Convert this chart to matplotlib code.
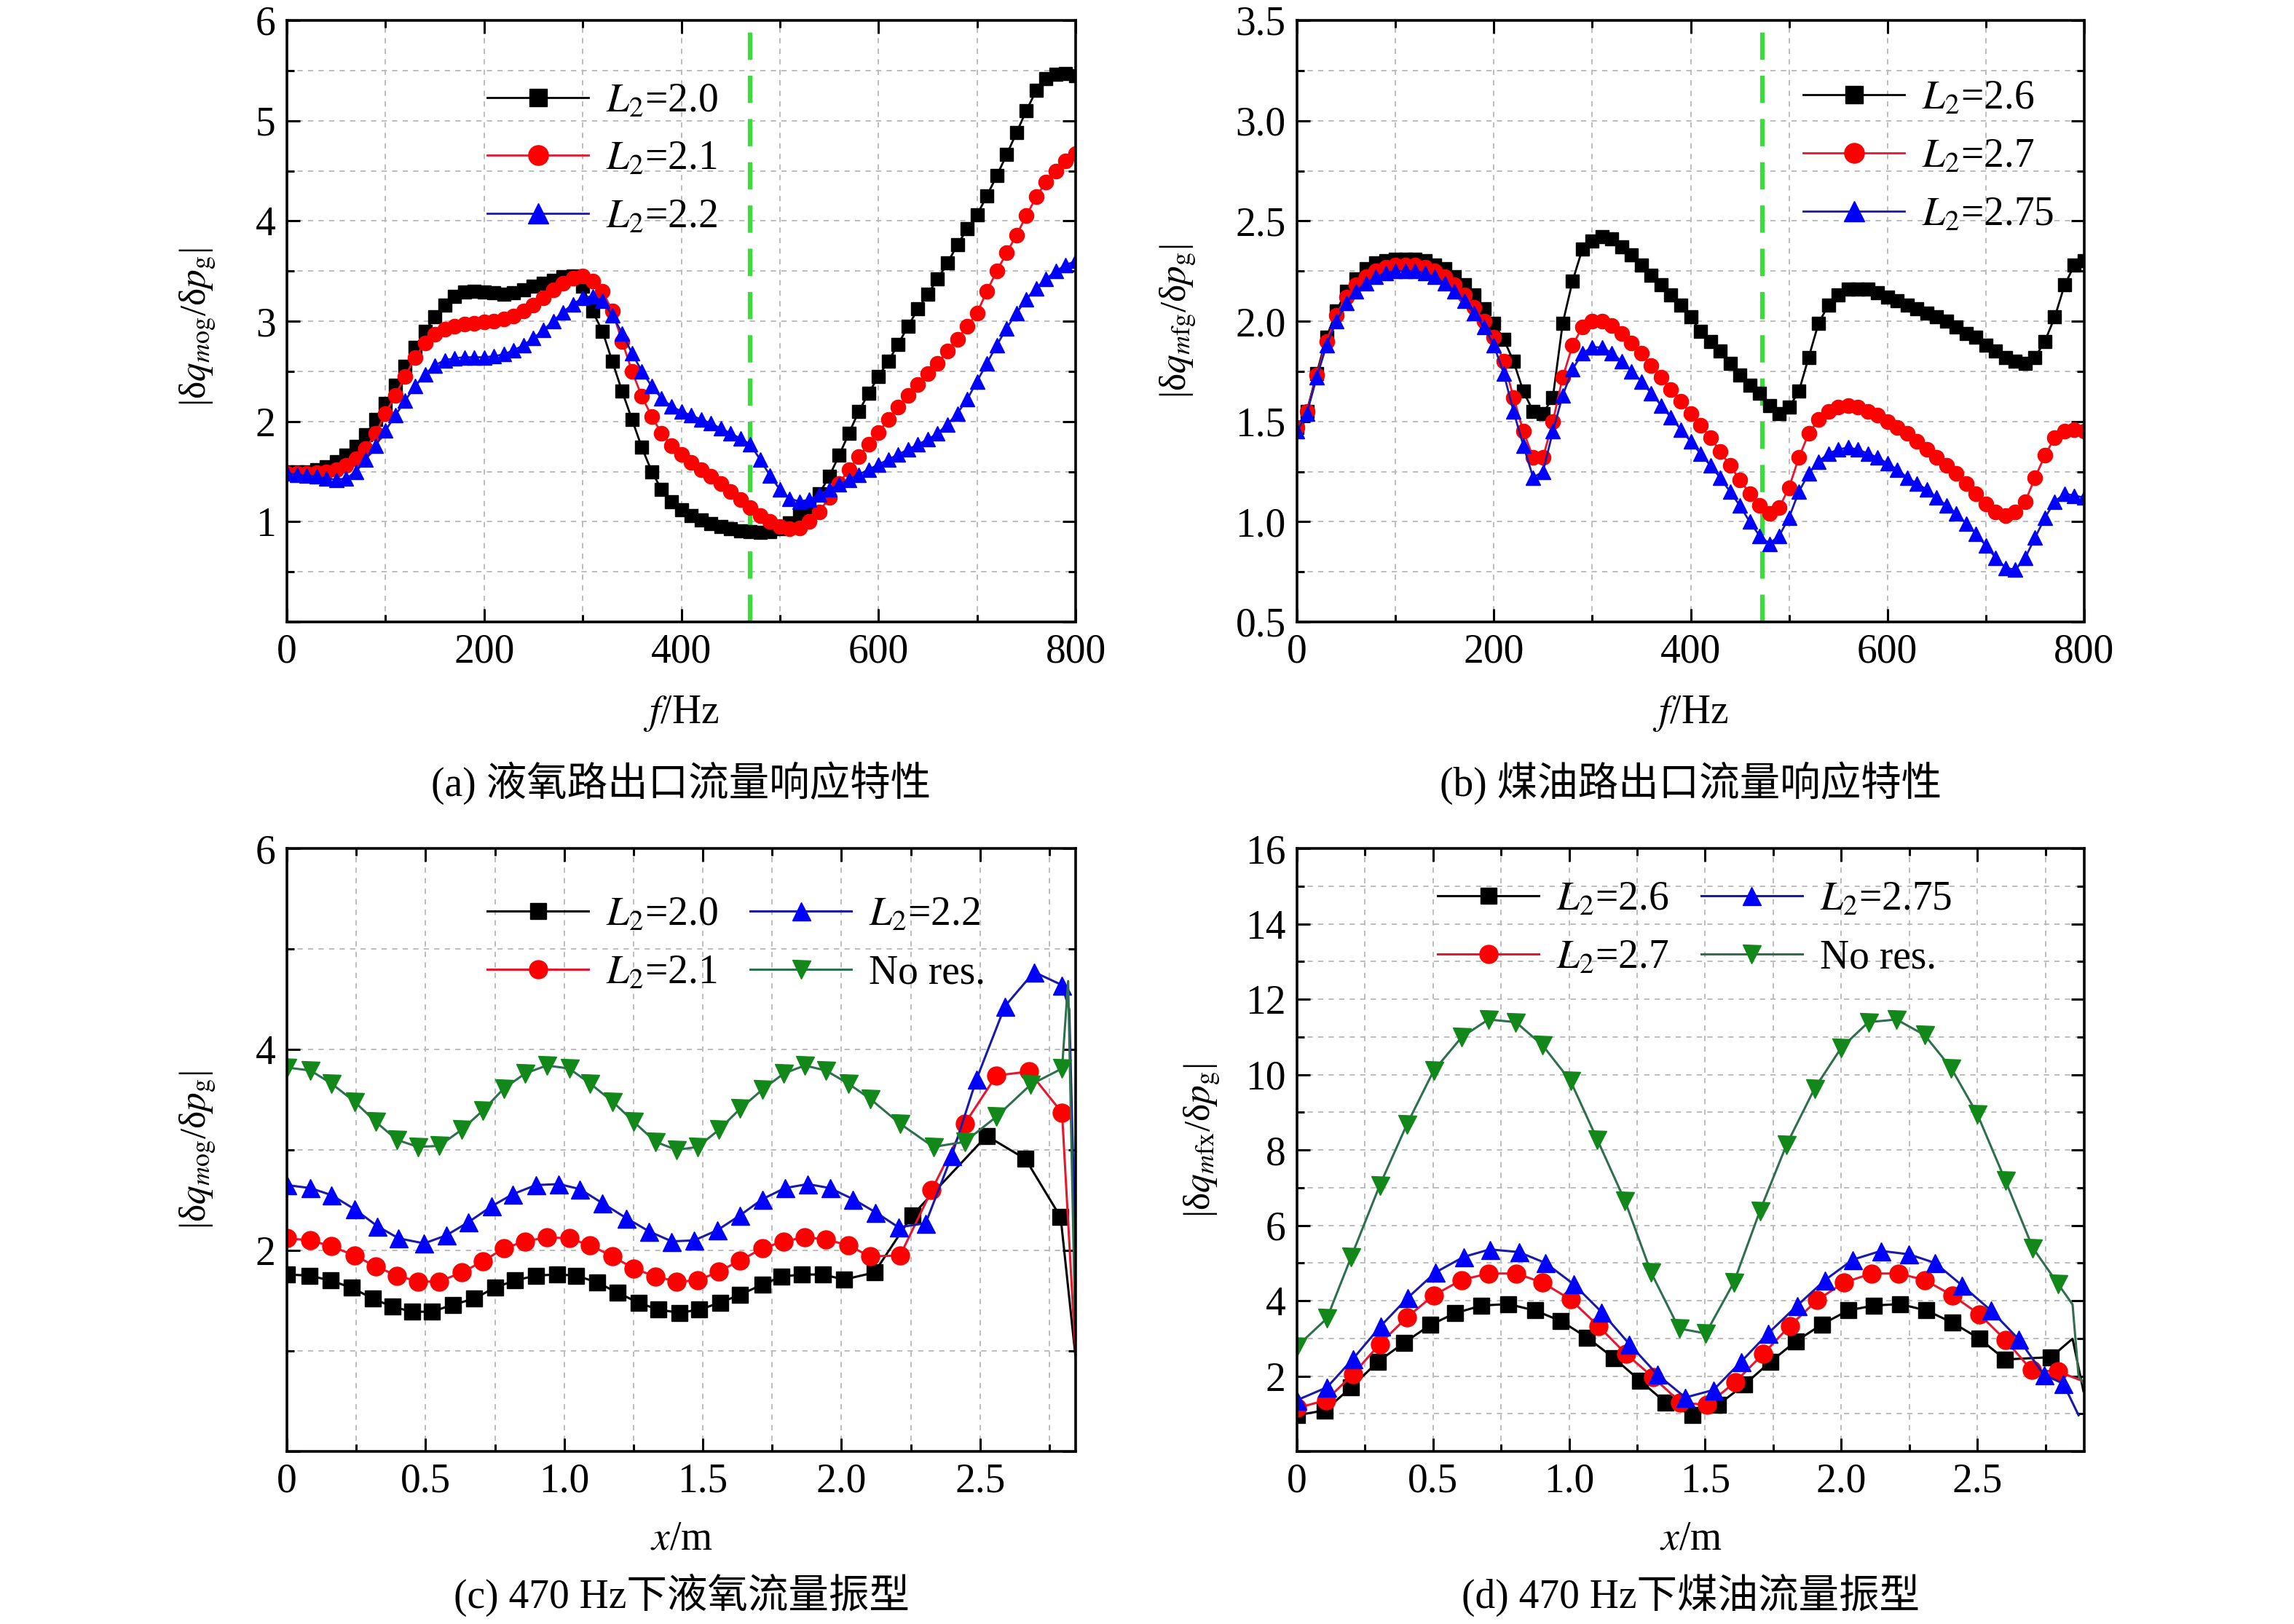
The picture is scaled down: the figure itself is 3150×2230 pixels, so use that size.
import numpy as np
import matplotlib
matplotlib.use("Agg")
import matplotlib.pyplot as plt
from matplotlib.ticker import MultipleLocator, FuncFormatter

plt.rcParams['font.family'] = ['Liberation Serif', 'Noto Sans CJK SC', 'DejaVu Sans']
plt.rcParams['mathtext.fontset'] = 'stix'

# ---------------- data ----------------
# (a) liquid-oxygen line outlet flow response, f = 0..800 Hz step 10
freq_a = list(range(0, 801, 10))
a_L20 = [1.50, 1.50, 1.50, 1.52, 1.55, 1.60, 1.66, 1.75, 1.87, 2.02,
         2.18, 2.36, 2.55, 2.74, 2.90, 3.04, 3.16, 3.25, 3.29, 3.30,
         3.29, 3.28, 3.27, 3.28, 3.31, 3.35, 3.38, 3.41, 3.44, 3.45,
         3.35, 3.10, 2.90, 2.60, 2.30, 2.02, 1.74, 1.50, 1.32, 1.20,
         1.12, 1.06, 1.02, 0.98, 0.95, 0.93, 0.91, 0.90, 0.89, 0.90,
         0.93, 0.99, 1.06, 1.15, 1.28, 1.45, 1.66, 1.88, 2.10, 2.28,
         2.45, 2.60, 2.77, 2.95, 3.12, 3.27, 3.42, 3.58, 3.76, 3.92,
         4.06, 4.25, 4.45, 4.66, 4.88, 5.10, 5.30, 5.42, 5.46, 5.47, 5.45]
a_L21 = [1.48, 1.48, 1.48, 1.49, 1.50, 1.52, 1.56, 1.63, 1.73, 1.88,
         2.08, 2.26, 2.45, 2.64, 2.78, 2.87, 2.92, 2.95, 2.97, 2.98,
         2.99, 3.00, 3.02, 3.05, 3.10, 3.16, 3.23, 3.31, 3.38, 3.43,
         3.45, 3.40, 3.30, 3.10, 2.80, 2.50, 2.25, 2.05, 1.88, 1.76,
         1.67, 1.59, 1.52, 1.45, 1.38, 1.30, 1.22, 1.14, 1.06, 1.00,
         0.95, 0.93, 0.94, 1.00, 1.10, 1.24, 1.38, 1.52, 1.65, 1.77,
         1.89, 2.02, 2.14, 2.26, 2.37, 2.48, 2.58, 2.70, 2.82, 2.95,
         3.08, 3.30, 3.50, 3.68, 3.86, 4.05, 4.24, 4.39, 4.50, 4.60, 4.67]
a_L22 = [1.48, 1.47, 1.46, 1.45, 1.43, 1.42, 1.43, 1.50, 1.62, 1.76,
         1.91, 2.06, 2.21, 2.35, 2.47, 2.56, 2.61, 2.63, 2.64, 2.64,
         2.64, 2.65, 2.67, 2.71, 2.76, 2.83, 2.91, 3.00, 3.09, 3.17,
         3.23, 3.25, 3.20, 3.06, 2.88, 2.68, 2.50, 2.35, 2.23, 2.15,
         2.10, 2.06, 2.02, 1.98, 1.93, 1.88, 1.83, 1.77, 1.62, 1.46,
         1.32, 1.23, 1.20, 1.22, 1.27, 1.32, 1.37, 1.42, 1.47, 1.52,
         1.57, 1.62, 1.67, 1.72, 1.77, 1.82, 1.88, 1.97, 2.08, 2.22,
         2.40, 2.58, 2.76, 2.93, 3.08, 3.22, 3.33, 3.42, 3.50, 3.56, 3.60]

# (b) kerosene line outlet flow response
freq_b = list(range(0, 801, 10))
b_L26 = [1.47, 1.55, 1.74, 1.92, 2.05, 2.15, 2.21, 2.26, 2.29, 2.30,
         2.31, 2.31, 2.31, 2.30, 2.28, 2.26, 2.22, 2.18, 2.13, 2.06,
         1.99, 1.91, 1.80, 1.65, 1.55, 1.54, 1.62, 1.99, 2.20, 2.36,
         2.40, 2.42, 2.41, 2.37, 2.33, 2.28, 2.23, 2.18, 2.13, 2.08,
         2.02, 1.95, 1.90, 1.85, 1.79, 1.73, 1.68, 1.64, 1.58, 1.54,
         1.57, 1.65, 1.82, 1.99, 2.08, 2.13, 2.16, 2.16, 2.16, 2.14,
         2.12, 2.10, 2.08, 2.06, 2.04, 2.02, 2.00, 1.97, 1.94, 1.92,
         1.88, 1.85, 1.82, 1.80, 1.79, 1.82, 1.90, 2.02, 2.18, 2.28, 2.30]
b_L27 = [1.47, 1.55, 1.73, 1.90, 2.03, 2.12, 2.18, 2.22, 2.25, 2.27,
         2.28, 2.28, 2.28, 2.27, 2.25, 2.22, 2.18, 2.13, 2.07, 2.00,
         1.92, 1.80, 1.62, 1.45, 1.32, 1.32, 1.50, 1.72, 1.88, 1.97,
         2.00, 2.00, 1.98, 1.94, 1.89, 1.84, 1.78, 1.72, 1.66, 1.60,
         1.54, 1.48, 1.42, 1.35, 1.28, 1.21, 1.14, 1.08, 1.04, 1.07,
         1.17, 1.32, 1.44, 1.51, 1.55, 1.57, 1.58, 1.57, 1.55, 1.53,
         1.50, 1.47, 1.44, 1.40, 1.36, 1.32, 1.28, 1.24, 1.19, 1.14,
         1.09, 1.05, 1.03, 1.05, 1.10, 1.22, 1.33, 1.42, 1.45, 1.46, 1.45]
b_L275 = [1.45, 1.54, 1.72, 1.88, 2.00, 2.09, 2.15, 2.19, 2.22, 2.24,
          2.25, 2.25, 2.25, 2.24, 2.22, 2.19, 2.15, 2.10, 2.04, 1.97,
          1.88, 1.74, 1.55, 1.38, 1.22, 1.25, 1.45, 1.63, 1.76, 1.84,
          1.87, 1.87, 1.84, 1.80, 1.75, 1.70, 1.64, 1.58, 1.52, 1.46,
          1.40, 1.34, 1.28, 1.22, 1.15, 1.08, 1.00, 0.93, 0.89, 0.93,
          1.02, 1.15, 1.24, 1.30, 1.34, 1.36, 1.37, 1.36, 1.34, 1.32,
          1.29, 1.26, 1.22, 1.19, 1.16, 1.12, 1.08, 1.04, 0.99, 0.94,
          0.88, 0.82, 0.77, 0.76, 0.82, 0.92, 1.02, 1.10, 1.14, 1.13, 1.12]

f_line_a = 470
f_line_b = 473

# (c) LOX flow mode shape at 470 Hz
c_x_L20 = [0, 0.081, 0.157, 0.233, 0.31, 0.381, 0.451, 0.523, 0.599, 0.676, 0.75, 0.822,
           0.898, 0.974, 1.044, 1.12, 1.192, 1.268, 1.34, 1.417, 1.486, 1.563, 1.635,
           1.715, 1.785, 1.857, 1.933, 2.01, 2.119, 2.256, 2.524, 2.664, 2.791, 2.845]
c_y_L20 = [1.76, 1.75, 1.70, 1.63, 1.52, 1.44, 1.39, 1.39, 1.46, 1.52, 1.63, 1.70,
           1.75, 1.76, 1.75, 1.68, 1.58, 1.48, 1.41, 1.38, 1.41, 1.48, 1.56,
           1.66, 1.74, 1.76, 1.76, 1.71, 1.78, 2.35, 3.14, 2.91, 2.33, 0.93]
c_x_L21 = [0, 0.085, 0.161, 0.244, 0.32, 0.397, 0.473, 0.549, 0.63, 0.706, 0.782, 0.859,
           0.937, 1.018, 1.094, 1.175, 1.251, 1.33, 1.406, 1.482, 1.558, 1.635, 1.715,
           1.792, 1.868, 1.944, 2.025, 2.103, 2.212, 2.326, 2.445, 2.559, 2.677, 2.796, 2.845]
c_y_L21 = [2.12, 2.10, 2.04, 1.95, 1.84, 1.75, 1.69, 1.69, 1.78, 1.89, 2.02, 2.09,
           2.13, 2.12, 2.05, 1.94, 1.82, 1.74, 1.69, 1.70, 1.79, 1.90, 2.02,
           2.09, 2.13, 2.11, 2.05, 1.94, 1.95, 2.60, 3.26, 3.74, 3.78, 3.37, 0.95]
c_x_L22 = [0, 0.085, 0.161, 0.244, 0.327, 0.403, 0.495, 0.575, 0.654, 0.739, 0.815, 0.898,
           0.981, 1.057, 1.138, 1.225, 1.306, 1.388, 1.469, 1.552, 1.635, 1.715, 1.796,
           1.879, 1.959, 2.042, 2.123, 2.206, 2.304, 2.398, 2.487, 2.59, 2.695, 2.796,
           2.822, 2.845]
c_y_L22 = [2.65, 2.62, 2.55, 2.41, 2.24, 2.12, 2.07, 2.15, 2.28, 2.44, 2.56, 2.65,
           2.66, 2.61, 2.47, 2.32, 2.19, 2.09, 2.10, 2.20, 2.35, 2.51, 2.62,
           2.66, 2.62, 2.51, 2.38, 2.23, 2.27, 2.94, 3.70, 4.43, 4.77, 4.64,
           4.40, 1.90]
c_x_nores = [0, 0.085, 0.161, 0.244, 0.32, 0.397, 0.473, 0.549, 0.63, 0.706, 0.782, 0.859,
             0.937, 1.018, 1.094, 1.175, 1.251, 1.33, 1.406, 1.482, 1.558, 1.635, 1.715,
             1.792, 1.868, 1.944, 2.025, 2.103, 2.212, 2.332, 2.445, 2.559, 2.683, 2.796,
             2.818, 2.845]
c_y_nores = [3.82, 3.79, 3.66, 3.48, 3.28, 3.10, 3.03, 3.04, 3.20, 3.39, 3.61, 3.76,
             3.84, 3.81, 3.66, 3.48, 3.28, 3.08, 3.00, 3.03, 3.20, 3.41, 3.60,
             3.76, 3.84, 3.79, 3.66, 3.51, 3.26, 3.03, 3.08, 3.33, 3.65, 3.81,
             4.68, 1.00]

# (d) kerosene flow mode shape at 470 Hz
d_x_L26 = [0, 0.103, 0.199, 0.297, 0.393, 0.491, 0.582, 0.678, 0.776, 0.874, 0.97, 1.066,
           1.164, 1.26, 1.354, 1.454, 1.546, 1.644, 1.74, 1.833, 1.929, 2.025, 2.119,
           2.215, 2.313, 2.408, 2.508, 2.602, 2.771, 2.85, 2.89]
d_y_L26 = [0.96, 1.09, 1.70, 2.38, 2.88, 3.36, 3.67, 3.87, 3.91, 3.74, 3.46, 3.02,
           2.48, 1.88, 1.30, 0.96, 1.23, 1.77, 2.38, 2.92, 3.37, 3.74, 3.87,
           3.91, 3.74, 3.42, 2.99, 2.44, 2.50, 2.99, 1.60]
d_x_L27 = [0, 0.107, 0.205, 0.304, 0.404, 0.502, 0.605, 0.703, 0.806, 0.902, 1.005, 1.107,
           1.21, 1.308, 1.409, 1.507, 1.61, 1.712, 1.811, 1.911, 2.009, 2.112, 2.21,
           2.306, 2.408, 2.507, 2.603, 2.699, 2.797, 2.89]
d_y_L27 = [1.15, 1.36, 2.04, 2.85, 3.56, 4.14, 4.55, 4.72, 4.72, 4.48, 4.03, 3.33,
           2.58, 1.97, 1.30, 1.23, 1.84, 2.58, 3.33, 4.01, 4.48, 4.72, 4.72,
           4.55, 4.14, 3.64, 2.96, 2.16, 2.12, 1.86]
d_x_L275 = [0, 0.11, 0.205, 0.308, 0.406, 0.509, 0.612, 0.708, 0.815, 0.913, 1.016, 1.119,
            1.221, 1.324, 1.427, 1.53, 1.632, 1.731, 1.838, 1.941, 2.043, 2.146, 2.249,
            2.345, 2.443, 2.55, 2.653, 2.745, 2.816, 2.872]
d_y_L275 = [1.36, 1.70, 2.45, 3.33, 4.07, 4.75, 5.16, 5.36, 5.29, 5.00, 4.44, 3.70,
            2.85, 2.04, 1.43, 1.63, 2.38, 3.13, 3.87, 4.55, 5.09, 5.32, 5.23,
            5.00, 4.41, 3.74, 2.97, 2.03, 1.80, 0.96]
d_x_nores = [0, 0.11, 0.199, 0.304, 0.404, 0.502, 0.605, 0.703, 0.804, 0.902, 1.005, 1.103,
             1.205, 1.301, 1.404, 1.502, 1.605, 1.701, 1.799, 1.902, 2.0, 2.1, 2.203,
             2.306, 2.404, 2.5, 2.603, 2.704, 2.797, 2.85, 2.872, 2.89]
d_y_nores = [2.79, 3.53, 5.16, 7.06, 8.68, 10.10, 10.99, 11.46, 11.39, 10.78, 9.83, 8.28,
             6.65, 4.75, 3.26, 3.13, 4.48, 6.38, 8.14, 9.63, 10.71, 11.39, 11.46,
             11.05, 10.17, 8.95, 7.19, 5.40, 4.44, 3.90, 2.00, 1.80]

labels_a = ['$L_2$=2.0', '$L_2$=2.1', '$L_2$=2.2']
labels_b = ['$L_2$=2.6', '$L_2$=2.7', '$L_2$=2.75']
labels_c = ['$L_2$=2.0', '$L_2$=2.1', '$L_2$=2.2', 'No res.']
labels_d = ['$L_2$=2.6', '$L_2$=2.7', '$L_2$=2.75', 'No res.']
captions = ['(a) 液氧路出口流量响应特性', '(b) 煤油路出口流量响应特性',
            '(c) 470 Hz下液氧流量振型', '(d) 470 Hz下煤油流量振型']

# ---------------- styling ----------------
FS = 40
YFS = 37
BLACK = dict(color='black', marker='s', mfc='black', mec='black')
RED = dict(color='#e8152e', marker='o', mfc='#ff0000', mec='#ff0000')
BLUE = dict(color='#1a1aa8', marker='^', mfc='#0000ff', mec='#0000ff')
GREEN = dict(color='#2f6f50', marker='v', mfc='#12881a', mec='#12881a')
LEG = dict(frameon=False, fontsize=FS, borderpad=0, borderaxespad=0, handlelength=2.5,
           handletextpad=0.43, labelspacing=0.5)

fig = plt.figure(figsize=(31.5, 22.3), dpi=100)
W, H = 3150, 2230


def axes_at(l, t, r, b):
    return fig.add_axes([l / W, 1 - b / H, (r - l) / W, (b - t) / H])


ax_a = axes_at(394, 28, 1477, 854)
ax_b = axes_at(1781, 28, 2862, 854)
ax_c = axes_at(394, 1165, 1477, 1993)
ax_d = axes_at(1781, 1165, 2862, 1993)


def style(ax, xlim, ylim, xmaj, xmin, ymaj, ymin, xfmt, yfmt):
    ax.set_xlim(*xlim)
    ax.set_ylim(*ylim)
    ax.xaxis.set_major_locator(MultipleLocator(xmaj))
    ax.xaxis.set_minor_locator(MultipleLocator(xmin))
    ax.yaxis.set_major_locator(MultipleLocator(ymaj))
    ax.yaxis.set_minor_locator(MultipleLocator(ymin))
    ax.xaxis.set_major_formatter(FuncFormatter(xfmt))
    ax.yaxis.set_major_formatter(FuncFormatter(yfmt))
    ax.grid(True, which='both', color='#b8b8b8', linestyle=(0, (4, 4)), linewidth=1.3)
    ax.set_axisbelow(True)
    ax.tick_params(which='both', direction='in', top=True, right=True, width=2.2)
    ax.tick_params(which='major', length=13, labelsize=FS, pad=11)
    ax.tick_params(which='minor', length=7)
    for s in ax.spines.values():
        s.set_linewidth(2.6)


def int_nozero(v, p):
    return '' if abs(v) < 1e-9 else '%d' % round(v)


def one_dec(v, p):
    return '%.1f' % v


def x_dec(v, p):
    return '0' if abs(v) < 1e-9 else '%.1f' % v


def ylab(ax, sub, xpos, ypos=0.5):
    s = '|δ' + r'$q_{m\mathrm{' + sub + r'}}$' + '/δ' + r'$p_{\mathrm{g}}$' + '|'
    ax.text(xpos, ypos, s, transform=ax.transAxes, rotation=90, ha='center',
            va='center', fontsize=YFS)


def xlab(ax, s, ypos):
    ax.text(0.5, ypos, s, transform=ax.transAxes, ha='center', va='center', fontsize=FS)


def caption(ax, s, ypos):
    ax.text(0.5, ypos, s, transform=ax.transAxes, ha='center', va='center', fontsize=FS)


# ---- (a)
for y, st, lab, ms in [(a_L20, BLACK, labels_a[0], 13), (a_L21, RED, labels_a[1], 14.5),
                       (a_L22, BLUE, labels_a[2], 15)]:
    ax_a.plot(freq_a, y, lw=2.0, ms=ms, label=lab, **st)
ax_a.axvline(f_line_a, color='#3ddc3d', lw=4.5, dashes=(6, 3.5), zorder=1)
style(ax_a, (0, 800), (0, 6), 200, 100, 1, 0.5, lambda v, p: '%d' % v, int_nozero)
ax_a.legend(loc='upper left', bbox_to_anchor=(0.254, 0.897), markerscale=1.35, **LEG)
ylab(ax_a, 'og', -0.112, 0.49)
xlab(ax_a, '$f$/Hz', -0.153)
caption(ax_a, captions[0], -0.268)

# ---- (b)
for y, st, lab, ms in [(b_L26, BLACK, labels_b[0], 13), (b_L27, RED, labels_b[1], 14.5),
                       (b_L275, BLUE, labels_b[2], 15)]:
    ax_b.plot(freq_b, y, lw=2.0, ms=ms, label=lab, **st)
ax_b.axvline(f_line_b, color='#3ddc3d', lw=4.5, dashes=(6, 3.5), zorder=1)
style(ax_b, (0, 800), (0.5, 3.5), 200, 100, 0.5, 0.25, lambda v, p: '%d' % v, one_dec)
ax_b.legend(loc='upper left', bbox_to_anchor=(0.643, 0.901), markerscale=1.35, **LEG)
ylab(ax_b, 'fg', -0.15, 0.5)
xlab(ax_b, '$f$/Hz', -0.153)
caption(ax_b, captions[1], -0.268)

# ---- (c)
for x, y, st, lab, ms, tail in [(c_x_L20, c_y_L20, BLACK, labels_c[0], 16, 1),
                                (c_x_L21, c_y_L21, RED, labels_c[1], 18, 1),
                                (c_x_L22, c_y_L22, BLUE, labels_c[2], 18, 2),
                                (c_x_nores, c_y_nores, GREEN, labels_c[3], 18, 2)]:
    ax_c.plot(x, y, lw=2.2, ms=ms, label=lab, markevery=list(range(len(x) - tail)), **st)
style(ax_c, (0, 2.845), (0, 6), 0.5, 0.25, 2, 1, x_dec, int_nozero)
h, l = ax_c.get_legend_handles_labels()
ax_c.legend(h, l, ncol=2, loc='upper left', bbox_to_anchor=(0.254, 0.921),
            columnspacing=0.8, markerscale=1.0, **LEG)
ylab(ax_c, 'og', -0.112, 0.5)
xlab(ax_c, '$x$/m', -0.145)
caption(ax_c, captions[2], -0.238)

# ---- (d)
for x, y, st, lab, ms, tail in [(d_x_L26, d_y_L26, BLACK, labels_d[0], 16, 2),
                                (d_x_L27, d_y_L27, RED, labels_d[1], 18, 1),
                                (d_x_L275, d_y_L275, BLUE, labels_d[2], 18, 1),
                                (d_x_nores, d_y_nores, GREEN, labels_d[3], 18, 3)]:
    ax_d.plot(x, y, lw=2.2, ms=ms, label=lab, markevery=list(range(len(x) - tail)), **st)
style(ax_d, (0, 2.893), (0, 16), 0.5, 0.25, 2, 1, x_dec, int_nozero)
h, l = ax_d.get_legend_handles_labels()
ax_d.legend(h, l, ncol=2, loc='upper left', bbox_to_anchor=(0.179, 0.946),
            columnspacing=0.8, markerscale=1.0, **LEG)
ylab(ax_d, 'fx', -0.12, 0.515)
xlab(ax_d, '$x$/m', -0.145)
caption(ax_d, captions[3], -0.238)

fig.savefig('out.png', dpi=100, facecolor='white')
